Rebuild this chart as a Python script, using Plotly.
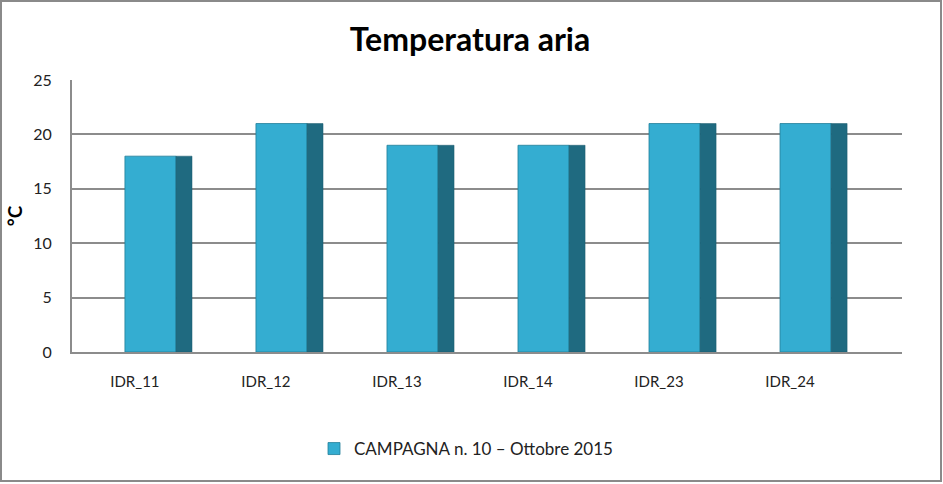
import plotly.graph_objects as go

categories = ["IDR_11", "IDR_12", "IDR_13", "IDR_14", "IDR_23", "IDR_24"]
values = [18, 21, 19, 19, 21, 21]
series_name = "CAMPAGNA n. 10 – Ottobre 2015"
y_ticks = [0, 5, 10, 15, 20, 25]

W, H = 943, 484
L, R, T, B = 72, 41, 80, 132
pw, ph = W - L - R, H - T - B

def px_x(p):
    return (p - L) / pw

def px_y(p):
    return (H - B - p) / ph

font = "Lato, Open Sans, sans-serif"

fig = go.Figure()
fig.add_trace(go.Bar(
    x=categories, y=values, name=series_name,
    width=0.39, offset=-0.076,
    marker=dict(color="#34ADD1", line=dict(color="#227F99", width=0.8)),
))
fig.add_trace(go.Bar(
    x=categories, y=values, showlegend=False, hoverinfo="skip",
    width=0.122, offset=0.314,
    marker=dict(color="#1F6A80", line=dict(color="#1A5A6C", width=0.5)),
))

fig.update_layout(
    width=W, height=H, autosize=False,
    margin=dict(l=L, r=R, t=T, b=B, autoexpand=False),
    paper_bgcolor="white", plot_bgcolor="white",
    barmode="overlay",
    title=dict(text="<b>Temperatura aria</b>", x=px_x(470), xanchor="center",
               xref="paper", y=1 - 40 / H, yanchor="middle", yref="container",
               font=dict(family=font, size=32, color="black")),
    font=dict(family=font, size=15, color="#222"),
    legend=dict(orientation="h", x=px_x(466), xanchor="center", xref="paper",
                y=px_y(449), yanchor="middle", yref="paper",
                itemwidth=30,
                font=dict(family=font, size=17, color="#222")),
    xaxis=dict(range=[-0.48, 5.855], showgrid=False, zeroline=False,
               showline=True, linecolor="#8C8C8C", linewidth=2,
               ticks="", ticklabelstandoff=15,
               automargin=False, tickangle=0,
               tickfont=dict(family=font, size=15, color="#222")),
    yaxis=dict(range=[0, 25], tickvals=y_ticks, showgrid=True,
               gridcolor="#8C8C8C", gridwidth=2, zeroline=False,
               showline=True, linecolor="#8C8C8C", linewidth=2,
               ticks="", ticklabelstandoff=15, automargin=False,
               tickfont=dict(family=font, size=16, color="#222"),
               title=dict(text="<b>°C</b>", standoff=6,
                          font=dict(family=font, size=19, color="black"))),
    shapes=[dict(type="rect", xref="paper", yref="paper",
                 x0=px_x(1), x1=px_x(941), y0=px_y(481), y1=px_y(1),
                 line=dict(color="#8A8A8A", width=2), layer="below")],
)

fig.write_html("out.html", config={"displayModeBar": False},
               post_script="document.body.style.margin='0';document.body.style.padding='0';")
